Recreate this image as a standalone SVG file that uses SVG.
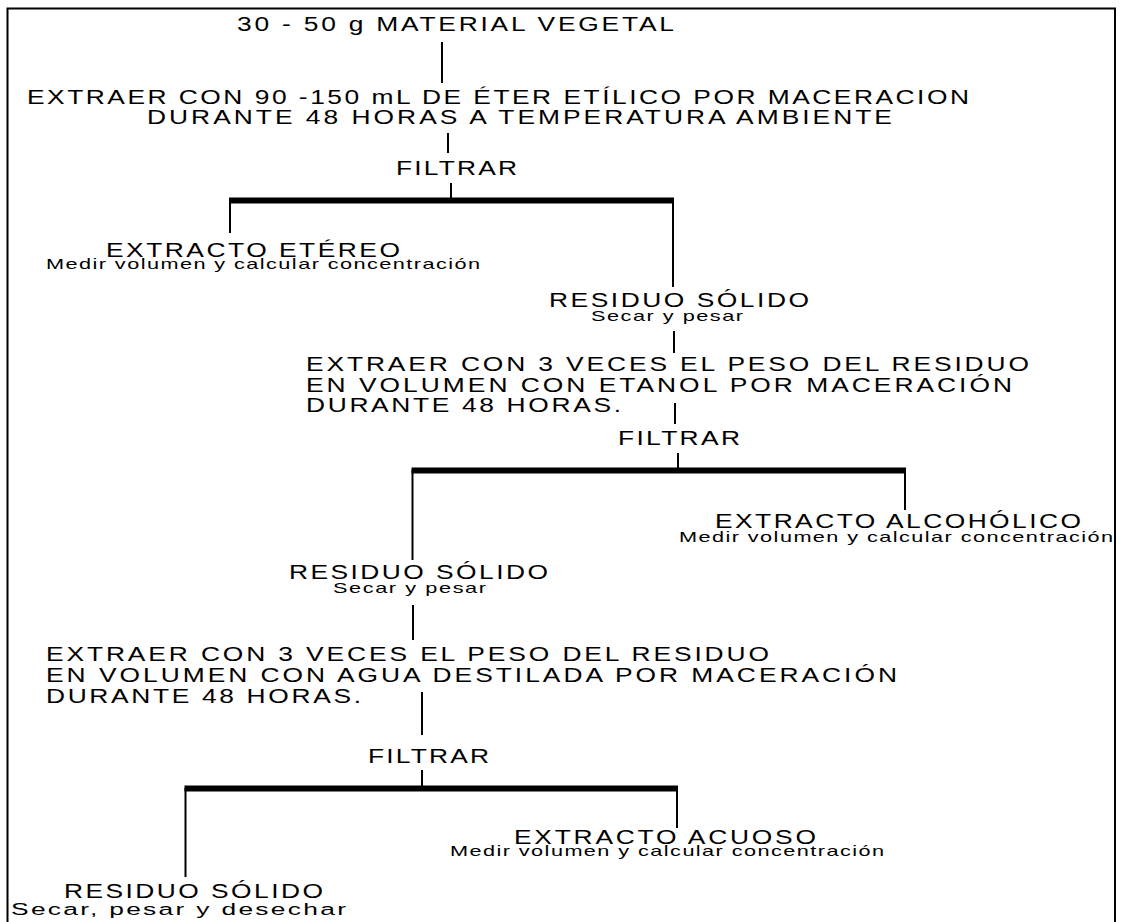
<svg xmlns="http://www.w3.org/2000/svg" width="1121" height="922" viewBox="0 0 1121 922">
<style>
text{font-family:"Liberation Sans",Arial,sans-serif;fill:#000}
.m{font-size:20px}
.s{font-size:14px}
.b{font-size:17px}
.ln{stroke:#000;stroke-width:2;fill:none}
.bar{stroke:#000;stroke-width:6;fill:none}
</style>
<rect width="1121" height="922" fill="#fff"/>
<path class="ln" d="M7.5,922 V8.5 H1115 V922"/>
<g id="connectors">
<line class="ln" x1="442" y1="42" x2="442" y2="83"/>
<line class="ln" x1="448" y1="133" x2="448" y2="153"/>
<line class="ln" x1="451" y1="183" x2="451" y2="199"/>
<line class="bar" x1="229" y1="200.5" x2="674" y2="200.5"/>
<line class="ln" x1="230" y1="200" x2="230" y2="233"/>
<line class="ln" x1="673" y1="200" x2="673" y2="287"/>
<line class="ln" x1="674" y1="331" x2="674" y2="353"/>
<line class="ln" x1="675" y1="403" x2="675" y2="424"/>
<line class="ln" x1="678" y1="453" x2="678" y2="469"/>
<line class="bar" x1="411.5" y1="470.5" x2="906" y2="470.5"/>
<line class="ln" x1="412.5" y1="470" x2="412.5" y2="560"/>
<line class="ln" x1="905" y1="470" x2="905" y2="510"/>
<line class="ln" x1="413" y1="605" x2="413" y2="640"/>
<line class="ln" x1="422" y1="692" x2="422" y2="735"/>
<line class="ln" x1="422" y1="770" x2="422" y2="786"/>
<line class="bar" x1="184.5" y1="788.5" x2="678" y2="788.5"/>
<line class="ln" x1="185.5" y1="788" x2="185.5" y2="877"/>
<line class="ln" x1="677" y1="788" x2="677" y2="828"/>
</g>
<g id="n-material"><text class="m" transform="scale(1.32,1)" x="179.55" y="31" textLength="331.06" lengthAdjust="spacing">30 - 50 g MATERIAL VEGETAL</text></g>
<g id="n-extraer1">
<text class="m" transform="scale(1.32,1)" x="20.45" y="104" textLength="713.64" lengthAdjust="spacing">EXTRAER CON 90 -150 mL DE ÉTER ETÍLICO POR MACERACION</text>
<text class="m" transform="scale(1.32,1)" x="111.36" y="124" textLength="564.39" lengthAdjust="spacing">DURANTE 48 HORAS A TEMPERATURA AMBIENTE</text>
</g>
<g id="n-filtrar1"><text class="m" transform="scale(1.32,1)" x="300" y="175" textLength="91.67" lengthAdjust="spacing">FILTRAR</text></g>
<g id="n-etereo">
<text class="m" transform="scale(1.32,1)" x="80.3" y="257" textLength="222.73" lengthAdjust="spacing">EXTRACTO ETÉREO</text>
<text class="s" transform="scale(1.55,1)" x="29.68" y="269" textLength="280" lengthAdjust="spacing">Medir volumen y calcular concentración</text>
</g>
<g id="n-residuo1">
<text class="m" transform="scale(1.32,1)" x="415.91" y="307" textLength="196.97" lengthAdjust="spacing">RESIDUO SÓLIDO</text>
<text class="s" transform="scale(1.55,1)" x="381.29" y="321" textLength="98.06" lengthAdjust="spacing">Secar y pesar</text>
</g>
<g id="n-extraer2">
<text class="m" transform="scale(1.32,1)" x="231.82" y="371" textLength="547.73" lengthAdjust="spacing">EXTRAER CON 3 VECES EL PESO DEL RESIDUO</text>
<text class="m" transform="scale(1.32,1)" x="231.82" y="392" textLength="534.85" lengthAdjust="spacing">EN VOLUMEN CON ETANOL POR MACERACIÓN</text>
<text class="m" transform="scale(1.32,1)" x="231.82" y="412" textLength="238.64" lengthAdjust="spacing">DURANTE 48 HORAS.</text>
</g>
<g id="n-filtrar2"><text class="m" transform="scale(1.32,1)" x="468.18" y="445" textLength="92.42" lengthAdjust="spacing">FILTRAR</text></g>
<g id="n-alcoholico">
<text class="m" transform="scale(1.32,1)" x="541.67" y="528" textLength="277.27" lengthAdjust="spacing">EXTRACTO ALCOHÓLICO</text>
<text class="s" transform="scale(1.55,1)" x="438.06" y="542" textLength="280" lengthAdjust="spacing">Medir volumen y calcular concentración</text>
</g>
<g id="n-residuo2">
<text class="m" transform="scale(1.32,1)" x="218.94" y="579" textLength="196.21" lengthAdjust="spacing">RESIDUO SÓLIDO</text>
<text class="s" transform="scale(1.55,1)" x="214.84" y="593" textLength="98.71" lengthAdjust="spacing">Secar y pesar</text>
</g>
<g id="n-extraer3">
<text class="m" transform="scale(1.32,1)" x="34.85" y="661" textLength="547.73" lengthAdjust="spacing">EXTRAER CON 3 VECES EL PESO DEL RESIDUO</text>
<text class="m" transform="scale(1.32,1)" x="34.85" y="682" textLength="644.7" lengthAdjust="spacing">EN VOLUMEN CON AGUA DESTILADA POR MACERACIÓN</text>
<text class="m" transform="scale(1.32,1)" x="34.85" y="703" textLength="238.64" lengthAdjust="spacing">DURANTE 48 HORAS.</text>
</g>
<g id="n-filtrar3"><text class="m" transform="scale(1.32,1)" x="278.79" y="763" textLength="91.67" lengthAdjust="spacing">FILTRAR</text></g>
<g id="n-acuoso">
<text class="m" transform="scale(1.32,1)" x="389.39" y="844" textLength="228.79" lengthAdjust="spacing">EXTRACTO ACUOSO</text>
<text class="s" transform="scale(1.55,1)" x="290.32" y="856" textLength="280" lengthAdjust="spacing">Medir volumen y calcular concentración</text>
</g>
<g id="n-residuo3">
<text class="m" transform="scale(1.32,1)" x="48.48" y="898" textLength="196.21" lengthAdjust="spacing">RESIDUO SÓLIDO</text>
<text class="b" transform="scale(1.55,1)" x="7.1" y="915" textLength="216.13" lengthAdjust="spacing">Secar, pesar y desechar</text>
</g>
</svg>
